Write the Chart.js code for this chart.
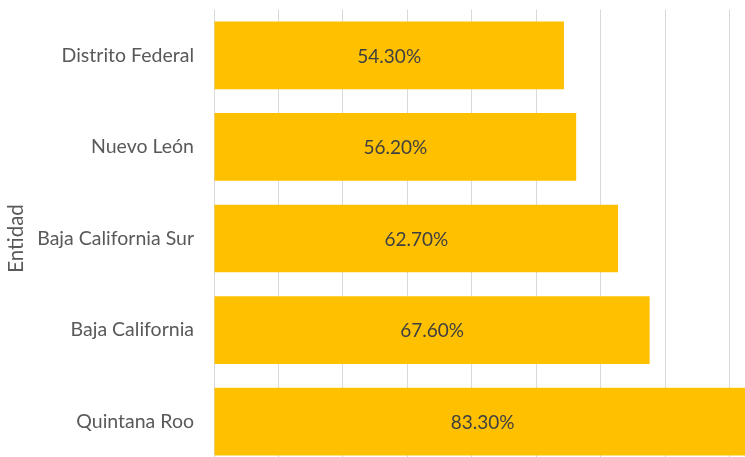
<!DOCTYPE html>
<html>
<head>
<meta charset="utf-8">
<script src="https://cdn.jsdelivr.net/npm/chart.js@4"></script>
<style>
  html, body { margin: 0; padding: 0; background: #fff; overflow: hidden; }
  #wrap { position: absolute; left: 0; top: -22px; width: 800px; height: 521px; }
</style>
</head>
<body>
<div id="wrap"><canvas id="myBarChart"></canvas></div>
<script>
var entidades = ['Distrito Federal', 'Nuevo León', 'Baja California Sur', 'Baja California', 'Quintana Roo'];
var porcentajes = [54.3, 56.2, 62.7, 67.6, 83.3];

// labels inside the bars
const barLabels = {
  id: 'barLabels',
  afterDatasetsDraw(chart) {
    const ctx = chart.ctx;
    const meta = chart.getDatasetMeta(0);
    ctx.save();
    ctx.font = '19px Lato, sans-serif';
    ctx.fillStyle = '#404040';
    ctx.textAlign = 'center';
    ctx.textBaseline = 'middle';
    meta.data.forEach(function (bar, i) {
      const cx = (bar.x + bar.base) / 2;
      ctx.fillText(porcentajes[i].toFixed(2) + '%', cx, bar.y + 1);
    });
    ctx.restore();
  }
};

var ctxBar = document.getElementById('myBarChart');
var myBarChart = new Chart(ctxBar, {
  type: 'bar',
  data: {
    labels: entidades,
    datasets: [{
      label: 'Entidad',
      data: porcentajes,
      backgroundColor: '#FFC000',
      borderWidth: 0,
      categoryPercentage: 1,
      barPercentage: 0.74,
    }],
  },
  options: {
    indexAxis: 'y',
    responsive: true,
    maintainAspectRatio: false,
    animation: false,
    layout: {
      padding: { top: 0, bottom: 0, right: 6, left: 4 }
    },
    scales: {
      x: {
        min: 0,
        max: 90,
        ticks: { display: false, stepSize: 10 },
        grid: { color: '#d9d9d9', lineWidth: 1, drawTicks: false },
        border: { display: false },
      },
      y: {
        grid: { display: false, drawTicks: false },
        border: { display: false },
        ticks: {
          color: '#595959',
          padding: 20,
          font: { family: 'Lato', size: 19.5 }
        },
        title: {
          display: true,
          text: 'Entidad',
          color: '#595959',
          padding: { top: 0, bottom: 3 },
          font: { family: 'Lato', size: 20.5 }
        },
        afterFit(scale) { scale.width = 210; }
      }
    },
    plugins: {
      legend: { display: false },
      tooltip: { enabled: false }
    }
  },
  plugins: [barLabels]
});
</script>
</body>
</html>
